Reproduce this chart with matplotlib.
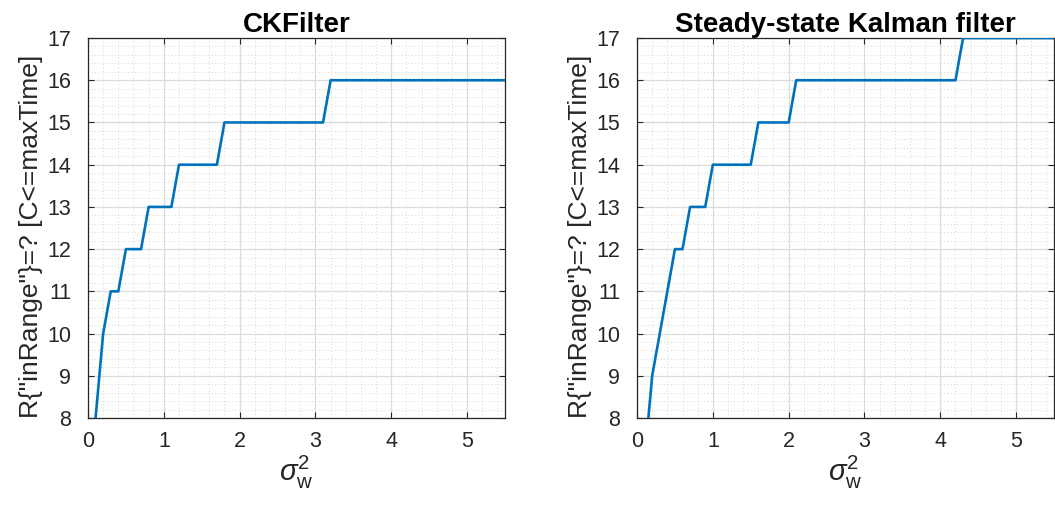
import numpy as np
import matplotlib.pyplot as plt
from matplotlib.ticker import MultipleLocator

plt.rcParams['font.family'] = ['Liberation Sans', 'DejaVu Sans']
plt.rcParams['mathtext.fontset'] = 'custom'
plt.rcParams['mathtext.rm'] = 'Liberation Sans'
plt.rcParams['mathtext.it'] = 'Liberation Sans:italic'

# step corners
ck_x = [0.1, 0.2, 0.3, 0.4, 0.5, 0.7, 0.8, 1.1, 1.2, 1.7, 1.8, 3.1, 3.2, 5.5]
ck_y = [8, 10, 11, 11, 12, 12, 13, 13, 14, 14, 15, 15, 16, 16]

kf_x = [0.1, 0.2, 0.5, 0.6, 0.7, 0.9, 1.0, 1.5, 1.6, 2.0, 2.1, 4.2, 4.3, 5.5]
kf_y = [7, 9, 12, 12, 13, 13, 14, 14, 15, 15, 16, 16, 17, 17]

titles = ['CKFilter', 'Steady-state Kalman filter']
ylabel = 'R{"inRange"}=? [C<=maxTime]'
xlabel = r'$\sigma_{\rm w}^{\rm 2}$'

fig = plt.figure(figsize=(10.55, 5.07), dpi=100)
axes = [fig.add_axes([0.0834, 0.1755, 0.3953, 0.7495]),
        fig.add_axes([0.6038, 0.1755, 0.3953, 0.7495])]

for ax, xs, ys, t in zip(axes, [ck_x, kf_x], [ck_y, kf_y], titles):
    ax.plot(xs, ys, color='#0072BD', linewidth=1.9, zorder=3)
    ax.set_xlim(0, 5.5)
    ax.set_ylim(8, 17)
    ax.xaxis.set_major_locator(MultipleLocator(1))
    ax.yaxis.set_major_locator(MultipleLocator(1))
    ax.xaxis.set_minor_locator(MultipleLocator(0.2))
    ax.yaxis.set_minor_locator(MultipleLocator(0.2))
    ax.grid(which='major', color='#dcdcdc', linewidth=0.9, zorder=0)
    ax.grid(which='minor', color='#c8c8c8', linestyle=(0, (1, 3)), linewidth=0.6, zorder=0)
    ax.tick_params(which='major', direction='in', length=4, top=True, right=True,
                   labelsize=15.5, color='#262626', labelcolor='#262626')
    ax.tick_params(axis='x', which='major', pad=9)
    ax.tick_params(axis='y', which='major', pad=12)
    ax.tick_params(which='minor', length=0)
    for s in ax.spines.values():
        s.set_color('#262626')
        s.set_linewidth(0.9)
    ax.set_title(t, fontsize=20, fontweight='bold', pad=4)
    ax.set_ylabel(ylabel, fontsize=19, color='#262626')
    ax.yaxis.set_label_coords(-0.108, 0.479)
    ax.set_xlabel(xlabel, fontsize=21, color='#262626', labelpad=2)

fig.savefig('out.png', dpi=100)
